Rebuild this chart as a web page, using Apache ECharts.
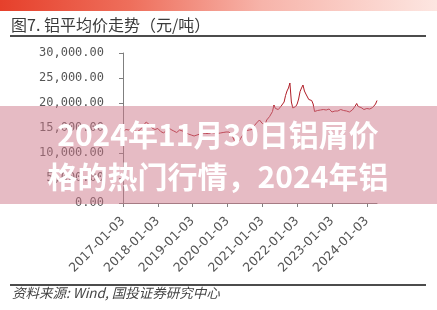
<!DOCTYPE html>
<html><head><meta charset="utf-8">
<script src="https://cdn.jsdelivr.net/npm/echarts@6/dist/echarts.min.js"></script>
<style>html,body{margin:0;padding:0;background:#fff}#c{width:437px;height:310px}</style>
</head><body><div id="c"></div>
<script>
const titleText = '图7. 铝平均价走势（元/吨）';
const sourceText = '资料来源: Wind, 国投证券研究中心';
const bannerLine1 = '2024年11月30日铝屑价';
const bannerLine2 = '格的热门行情，2024年铝';
const yTicks = [0, 5000, 10000, 15000, 20000, 25000, 30000];

const dates = [
'2017-01-03','2017-01-17','2017-02-01','2017-02-15','2017-03-01','2017-03-15','2017-04-01','2017-04-15','2017-05-01','2017-05-15','2017-06-01','2017-06-15','2017-07-01','2017-07-15','2017-08-01','2017-08-15','2017-09-01','2017-09-15','2017-10-01','2017-10-15','2017-11-01','2017-11-15','2017-12-01','2017-12-15',
'2018-01-03','2018-01-17','2018-02-01','2018-02-15','2018-03-01','2018-03-15','2018-04-01','2018-04-15','2018-05-01','2018-05-15','2018-06-01','2018-06-15','2018-07-01','2018-07-15','2018-08-01','2018-08-15','2018-09-01','2018-09-15','2018-10-01','2018-10-15','2018-11-01','2018-11-15','2018-12-01','2018-12-15',
'2019-01-03','2019-01-17','2019-02-01','2019-02-15','2019-03-01','2019-03-15','2019-04-01','2019-04-15','2019-05-01','2019-05-15','2019-06-01','2019-06-15','2019-07-01','2019-07-15','2019-08-01','2019-08-15','2019-09-01','2019-09-15','2019-10-01','2019-10-15','2019-11-01','2019-11-15','2019-12-01','2019-12-15',
'2020-01-03','2020-01-17','2020-02-01','2020-02-15','2020-03-01','2020-03-15','2020-04-01','2020-04-15','2020-05-01','2020-05-15','2020-06-01','2020-06-15','2020-07-01','2020-07-15','2020-08-01','2020-08-15','2020-09-01','2020-09-15','2020-10-01','2020-10-15','2020-11-01','2020-11-15','2020-12-01','2020-12-15',
'2021-01-03','2021-01-17','2021-02-01','2021-02-15','2021-03-01','2021-03-15','2021-04-01','2021-04-15','2021-05-01','2021-05-15','2021-06-01','2021-06-15','2021-07-01','2021-07-15','2021-08-01','2021-08-15','2021-09-01','2021-09-15','2021-10-01','2021-10-15','2021-11-01','2021-11-15','2021-12-01','2021-12-15',
'2022-01-03','2022-01-17','2022-02-01','2022-02-15','2022-03-01','2022-03-15','2022-04-01','2022-04-15','2022-05-01','2022-05-15','2022-06-01','2022-06-15','2022-07-01','2022-07-15','2022-08-01','2022-08-15','2022-09-01','2022-09-15','2022-10-01','2022-10-15','2022-11-01','2022-11-15','2022-12-01','2022-12-15',
'2023-01-03','2023-01-17','2023-02-01','2023-02-15','2023-03-01','2023-03-15','2023-04-01','2023-04-15','2023-05-01','2023-05-15','2023-06-01','2023-06-15','2023-07-01','2023-07-15','2023-08-01','2023-08-15','2023-09-01','2023-09-15','2023-10-01','2023-10-15','2023-11-01','2023-11-15','2023-12-01','2023-12-15',
'2024-01-03','2024-01-17','2024-02-01','2024-02-15','2024-03-01','2024-03-15','2024-04-01','2024-04-15'
];

const prices = [
14200,14500,14700,14800,14600,14700,14500,14600,14400,14500,14300,14500,14700,15100,15500,15900,16200,16000,15700,15400,15000,14800,14700,14900,
14900,14600,14300,14200,14000,14100,14600,15200,14900,14700,14600,14400,14200,14100,14400,14600,14500,14400,14300,14100,13900,13800,13700,13600,
13500,13400,13500,13600,13700,13800,13900,14000,14000,13900,13800,13900,14000,14100,14100,14000,14000,13900,13900,14000,14000,14100,14100,14200,
14300,14200,13900,13600,13200,12300,11800,11900,12400,12900,13300,13800,14200,14500,14500,14600,14600,14700,15300,15700,16000,16300,16600,16500,
15900,15700,15800,16600,17000,17300,17600,18300,19600,18900,18500,18700,18900,19400,19800,20200,21500,22400,23000,24000,20200,19000,18700,19300,
19800,20800,22300,23000,23600,22400,21800,21500,20700,20900,20500,19800,18300,18000,18500,18800,18600,18700,18700,18300,18600,18800,18800,18600,
18200,18600,18400,18300,18400,18700,18700,18900,18500,18200,18400,18300,18200,18300,18600,18800,19400,19900,19300,19000,19100,18900,18700,18900,
18900,19000,18800,18900,19100,19300,19800,20500
];

function fmtNum(v){
  const s = Math.round(v).toString().replace(/\B(?=(\d{3})+(?!\d))/g, ',');
  return s + '.00';
}

const chart = echarts.init(document.getElementById('c'), null, {renderer:'canvas'});
const yearTick = (i) => i % 24 === 0;
chart.setOption({
  animation: false,
  backgroundColor: '#fff',
  grid: {left: 123, right: 60, top: 53, bottom: 107},
  xAxis: {
    type: 'category',
    data: dates,
    boundaryGap: false,
    axisLine: {lineStyle: {color: '#7f7f7f', width: 1}},
    axisTick: {show: true, interval: yearTick, length: 4, lineStyle: {color: '#7f7f7f'}},
    axisLabel: {interval: yearTick, rotate: 45, margin: 16, color: '#555', fontSize: 12.5, fontFamily: 'DejaVu Sans'},
    splitLine: {show: false}
  },
  yAxis: {
    type: 'value',
    min: yTicks[0], max: yTicks[yTicks.length-1], interval: yTicks[1]-yTicks[0],
    axisLine: {show: true, lineStyle: {color: '#7f7f7f', width: 1}},
    axisTick: {show: true, length: 4, lineStyle: {color: '#7f7f7f'}},
    axisLabel: {formatter: fmtNum, margin: 19, color: '#555', fontSize: 12, fontFamily: 'DejaVu Sans Mono'},
    splitLine: {show: false}
  },
  series: [{
    type: 'line',
    data: prices,
    showSymbol: false,
    lineStyle: {color: '#b01e28', width: 1},
    itemStyle: {color: '#b01e28'}
  }],
  graphic: [
    {type: 'rect', z: 50, shape: {x: 0, y: 0, width: 437, height: 11},
     style: {fill: new echarts.graphic.LinearGradient(0, 0, 1, 0, [
       {offset: 0, color: '#e6402b'}, {offset: 0.3, color: '#ee6f5c'},
       {offset: 0.6, color: '#f7b4aa'}, {offset: 1, color: '#fde6e1'}])}},
    {type: 'text', z: 50, style: {text: titleText, x: 11, y: 25, fill: '#3a3a3a',
       font: '16px "Noto Sans CJK SC"', textVerticalAlign: 'middle', verticalAlign: 'middle'}},
    {type: 'line', z: 50, shape: {x1: 10, y1: 36, x2: 426, y2: 36}, style: {stroke: '#111', lineWidth: 1.5}},
    {type: 'line', z: 50, shape: {x1: 10, y1: 285, x2: 426, y2: 285}, style: {stroke: '#111', lineWidth: 1.5}},
    {type: 'text', z: 50, style: {text: sourceText, x: 12, y: 293, fill: '#444',
       font: 'italic 13.5px "Noto Sans CJK SC"', textVerticalAlign: 'middle', verticalAlign: 'middle'}},
    {type: 'rect', z: 100, shape: {x: 0, y: 106, width: 437, height: 98},
     style: {fill: 'rgba(205,120,138,0.5)'}},
    {type: 'text', z: 101, style: {text: bannerLine1, x: 218, y: 135, fill: '#fff',
       font: 'bold 30px "Noto Sans CJK SC"', textAlign: 'center', align: 'center',
       textVerticalAlign: 'middle', verticalAlign: 'middle',
       shadowBlur: 2, shadowColor: 'rgba(120,60,70,0.35)'}},
    {type: 'text', z: 101, style: {text: bannerLine2, x: 218, y: 177, fill: '#fff',
       font: 'bold 30px "Noto Sans CJK SC"', textAlign: 'center', align: 'center',
       textVerticalAlign: 'middle', verticalAlign: 'middle',
       shadowBlur: 2, shadowColor: 'rgba(120,60,70,0.35)'}}
  ]
});
</script>
</body></html>
